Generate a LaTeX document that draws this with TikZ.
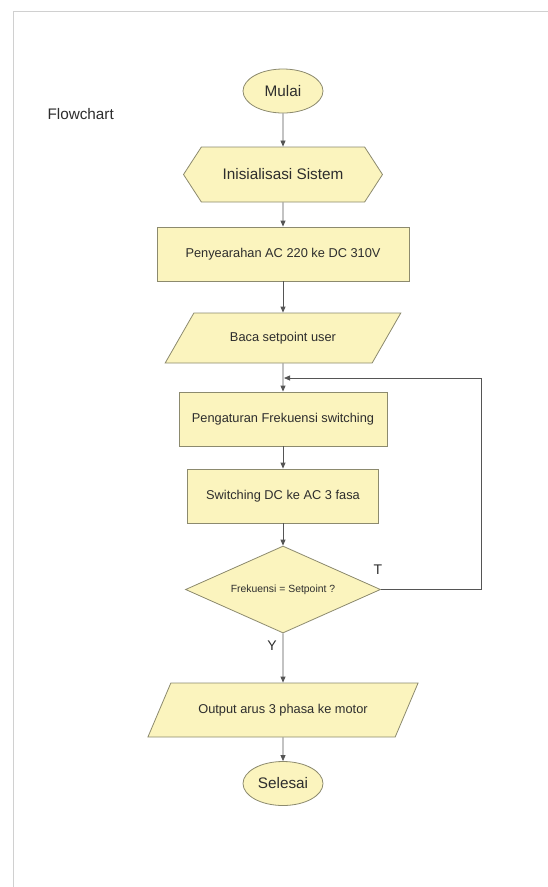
\documentclass[tikz,border=0pt]{standalone}
\usepackage{fontspec}
\setmainfont{Liberation Sans}
\usetikzlibrary{arrows.meta,shapes.geometric,shapes.symbols}

\definecolor{boxfill}{RGB}{251,244,190}
\definecolor{boxline}{RGB}{140,138,110}
\definecolor{wire}{RGB}{85,85,85}
\definecolor{ink}{RGB}{45,45,45}
\definecolor{frame}{RGB}{208,208,208}

\begin{document}
\begin{tikzpicture}[x=1pt,y=-1pt,
  base/.style={draw=boxline,fill=boxfill,line width=0.8pt,text=ink,
               inner sep=2pt,align=center},
  term/.style={base,ellipse,minimum width=80pt,minimum height=44pt,
               font=\fontsize{15.3}{18}\selectfont},
  prep/.style={base,signal,signal to=west and east,signal pointer angle=114,
               minimum width=199pt,minimum height=55pt,
               font=\fontsize{15.3}{18}\selectfont},
  proc/.style={base,rectangle,minimum height=54pt,
               font=\fontsize{12.8}{15}\selectfont},
  io/.style  ={base,trapezium,trapezium left angle=42,trapezium right angle=138,
               trapezium stretches=true,font=\fontsize{12.8}{15}\selectfont},
  dec/.style ={base,diamond,aspect=2.24,minimum width=195pt,minimum height=87pt,
               inner sep=0pt,font=\fontsize{10.4}{12}\selectfont},
  arr/.style ={-{Triangle[length=6pt,width=5pt]},wire,line width=0.8pt},
  lbl/.style ={text=ink,font=\fontsize{14}{16}\selectfont}
]
\useasboundingbox (0,0) rectangle (548,887);

%% Page frame and title
\draw[frame,line width=0.8pt] (13,887) -- (13,11) -- (548,11);
\node[text=ink,anchor=west,font=\fontsize{15.3}{18}\selectfont] (title) at (44,114) {Flowchart};

%% Main column
\node[term] (mulai)   at (283, 91)   {Mulai};
\node[prep] (init)    at (283,174.5) {Inisialisasi Sistem};
\node[proc,minimum width=252pt] (rect) at (283,254) {Penyearahan AC 220 ke DC 310V};
\node[io,minimum width=236pt,minimum height=50pt] (baca) at (283,338) {Baca setpoint user};
\node[proc,minimum width=208pt] (atur) at (283,419) {Pengaturan Frekuensi switching};
\node[proc,minimum width=191pt] (sw)   at (283,496) {Switching DC ke AC 3 fasa};
\node[dec]  (cek)     at (283,589.5) {Frekuensi = Setpoint ?};
\node[io,minimum width=271pt,minimum height=54pt] (out) at (283,710) {Output arus 3 phasa ke motor};
\node[term] (selesai) at (283,783.5) {Selesai};

%% Branch labels
\node[lbl] (t) at (378,570) {T};
\node[lbl] (y) at (272,646) {Y};

%% Forward arrows
\draw[arr] (mulai) -- (init);
\draw[arr] (init)  -- (rect);
\draw[arr] (rect)  -- (baca);
\draw[arr] (baca)  -- (atur);
\draw[arr] (atur)  -- (sw);
\draw[arr] (sw)    -- (cek);
\draw[arr] (cek)   -- (out);
\draw[arr] (out)   -- (selesai);

%% Loop back when frequency not reached
\coordinate (rt)     at (481,378);
\coordinate (loopin) at (284,378);
\draw[arr] (cek.east) -| (rt) -- (loopin);
\end{tikzpicture}
\end{document}
